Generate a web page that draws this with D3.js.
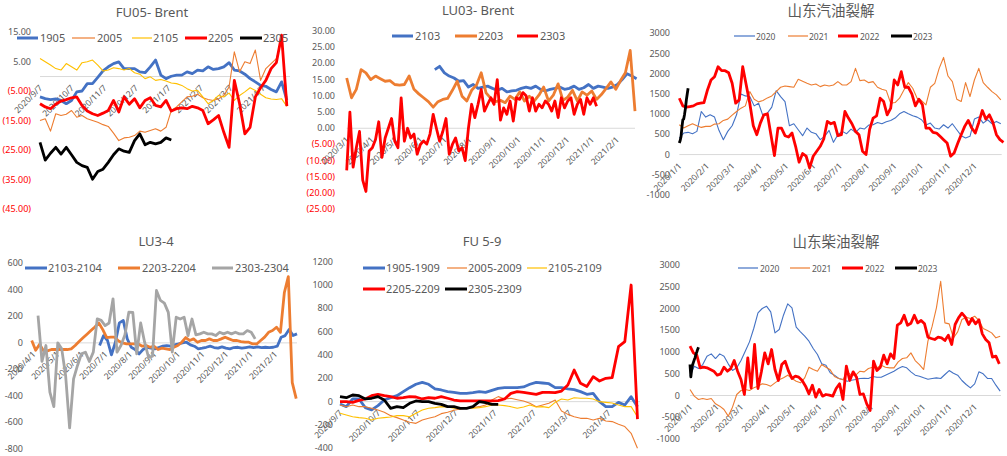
<!DOCTYPE html>
<meta charset="utf-8">
<title>Spreads and cracks</title>
<style>
    body { margin: 0; background: #fff; }
    svg text { font-family: "Noto Sans", "Liberation Sans", sans-serif; fill: #595959; }
    .cjk { font-family: "Noto Sans CJK SC", sans-serif; }
</style>
<body>
<svg id="chart" width="1007" height="456"></svg>

<script src="https://cdn.jsdelivr.net/npm/d3@7"></script>
<script>
    // ---- FU05 - Brent (step 5 days from 2020/9/7)
    var fu05_1905 = [-6.9,-7.5,-7.8,-7.6,-8.1,-9.2,-8.1,-5.2,-4.9,-2.4,-2.4,-0.3,1.9,3.3,4.4,5,2.7,2.7,2.7,1.6,1.3,3.3,5.6,0.5,-0.7,0.1,0.5,0.5,1.6,1,2.2,1.9,3.3,2.4,2.7,3.3,4.7,2.2,1.9,0.8,-0.7,-1.8,-3,-3.3,-4.4,-5.2,-1.8,-8];
    var fu05_2005 = [-14.9,-14.3,-18.5,-12.6,-13.2,-12.8,-11.5,-13.8,-13.2,-14.3,-14.9,-15.5,-16.3,-16.9,-19.2,-21.7,-20.8,-20.6,-20,-18.5,-18.9,-18.3,-17.7,-18.5,-17.2,-11.5,-10.3,-8.6,-6.9,-6.7,-6,-7.2,-7.8,-8.1,-7.5,-6.4,-3.5,8.4,1.6,5,4.4,9,-1.3,2.7,4.4,6.1,12,-7];
    var fu05_2105 = [6.1,5,3.9,2.7,2.2,4.4,3.3,2.2,4.7,5,5.6,3.9,1.9,2.2,3,2.7,2.2,2.7,1.3,0.8,-0.7,-0.1,-1.3,-1,-1.5,-2.2,-2.4,-3,-4.1,-4.9,-4.7,-6.9,-9.2,-8.1,-6.4,-6.9,-5.6,-8.1,-6.4,-5.2,-3.8,-4.7,-6,-7.2,-7.6,-7.8,-7.5,-10.1];
    var fu05_2205 = [-9.2,-10.3,-10.9,-9.4,-8.3,-7.8,-7.2,-6.9,-9.8,-11.7,-12.6,-13.2,-12.4,-11.5,-8.1,-12,-6.9,-9.4,-7.5,-10.6,-8.1,-7.2,-9.8,-10.3,-8.1,-11.7,-10.9,-10.6,-10.9,-10.1,-10.6,-11.5,-16,-14.7,-13.2,-18.9,-24,-1.3,-9.2,-19.4,-17.2,-6.9,-3.8,-1.3,2.7,4.7,14,-10];
    var fu05_2305 = [-22.3,-28.3,-26,-24,-26.3,-24,-26.5,-29.1,-30.2,-30.8,-34.8,-32.2,-31.4,-29.1,-26.5,-24.5,-25.3,-25.7,-21.7,-19.4,-23.1,-22.3,-22.8,-22.3,-20.8,-21.5];

    // ---- LU03 - Brent
    var lu03_2103 = [18.1,19.1,17.1,16.1,15.5,14.5,14.7,12.7,13.5,12.3,12.7,13,12.3,11.7,12.3,11.2,11.5,11.7,12.3,12.7,12.3,13,12,11.5,12,12.3,12.7,12,12.3,13,12,12.5,13.5,12.3,13,12.7,12.3,12.7,13.5,15,16.8,16.1,15.3];
    var lu03_2203 = [15.5,9.4,12,18.1,17.1,15,16.1,15.3,14.5,14.7,13.5,13.3,13.5,16.1,12,10.6,9.4,8.2,6.5,8.2,8.9,9.2,11.7,14.5,9.9,8.4,11.7,13.3,17.1,10.9,9.2,8.2,8.6,7.9,9.9,8.9,11.2,8.4,9.9,8.4,10.2,12.7,8.4,10.2,13.7,8.6,9.6,11.7,8.4,11.2,10.2,11.5,8.9,10.4,12.3,14.3,12,14.7,17.1,24,5.3];
    var lu03_2303 = [-13,5,-12,-6,-1,-16,-19.5,-7,-6,-3.5,2,-9,-3,0,3,-4,-6,9.4,-4,0,-3,-1.8,-8,-5,-3.9,-4.9,-1.8,4.3,0,-4,-1,3,-8,-5,-3,-7,-6,-10,0,7.4,3.3,7.4,12,5.3,7.4,9.4,7.4,15,2.5,6.3,4.3,8.4,2.2,9.4,8.9,11,10,5.3,9.4,5.3,7.4,6.3,8.4,7.4,5.3,8.4,3.3,9.4,6.3,8.4,9.4,4.3,7.4,8.9,4.3,9.4,7.4,9.4,6.8];

    // ---- 山东汽油裂解 (by day of year)
    var gas_2020 = [410,533,550,517,574,1066,927,984,927,599,369,574,713,984,1500,1451,1435,1205,1271,959,1025,1173,1580,1435,1312,713,763,615,467,656,550,517,369,451,599,303,492,574,517,631,550,656,631,730,738,795,763,812,845,902,1009,1066,1009,959,927,861,730,779,656,631,738,656,763,615,467,410,451,877,927,779,861,763,820,763];
    var gas_2021 = [738,656,713,763,713,672,697,697,754,763,845,877,976,1066,1148,1205,1558,1369,1304,1337,1402,1451,1558,1665,1697,1681,1665,1861,1812,1763,1722,1747,1681,1722,1697,1722,1804,1722,1722,1804,2132,1829,1845,1779,1804,1665,1615,1583,1271,1287,1394,1599,1779,1640,1394,1337,1230,1665,1763,2132,2403,1943,1804,1369,1312,1779,1435,1845,2132,1779,1665,1558,1476,1353];
    var gas_2022 = [1394,1205,1173,1189,1205,1255,1271,1287,1599,1845,1927,2173,2075,2075,2025,1763,1271,1353,2173,1722,1271,713,492,779,984,1009,492,-25,656,656,467,435,533,205,-189,25,-41,-328,-41,82,205,385,820,763,795,467,492,1066,902,763,574,492,82,0,615,902,959,1394,1312,984,1148,1845,1722,2050,1665,1665,1501,1205,1369,1230,656,656,550,533,451,369,287,-41,41,271,492,697,845,656,533,795,1091,877,984,795,492,369,303];
    var gas_2023 = [287,350,450,680,860,880,1000,1150,1350,1500,1640];

    // ---- LU3-4
    var lu34_2103 = [-20,55,18,-90,5,151,169,30,-33,-50,-83,-50,-33,-40,-45,-35,-25,-20,-25,-15,-8,0,5,-15,-25,-45,-40,-33,-25,-35,-40,-30,-40,-45,-35,-33,-40,-35,-30,-35,-30,-35,-33,-35,-33,-25,43,55,101,55,68];
    var lu34_2203 = [18,-55,-10,-60,-60,-50,-50,-50,-50,-50,-45,-20,10,38,65,93,120,150,100,40,43,43,15,0,-8,-8,-8,-8,-25,-20,-33,-25,-50,-40,-45,-50,-33,-20,5,40,18,30,5,18,18,30,18,18,30,43,30,18,18,10,5,5,-8,-8,18,43,80,93,118,80,380,500,-300,-420];
    var lu34_2303 = [206,-140,-20,-372,-480,0,-45,-250,-640,-272,-170,-83,-70,-140,-70,181,170,130,150,332,-70,-20,60,231,230,-83,150,5,-110,-100,395,320,300,230,-70,194,180,194,55,180,60,68,80,68,68,55,80,68,80,68,80,68,68,93,80,30];

    // ---- FU 5-9
    var fu59_1905 = [-20,-43,23,23,-51,-71,-34,14,34,51,86,120,149,166,149,109,100,86,80,71,71,77,86,80,97,114,120,120,120,126,149,166,160,154,120,120,109,103,86,63,71,0,-43,-43,-6,-29,43,-43];
    var fu59_2005 = [-29,-43,-29,-43,-43,-57,-71,-91,-120,-137,-157,-177,-186,-157,-143,-129,-103,-91,-74,-63,-57,-51,-43,-29,14,43,23,29,17,6,-14,-43,-29,-14,14,-80,-109,-129,-143,-143,-157,-143,-166,-171,-194,-214,-271,-400];
    var fu59_2105 = [-100,-114,-129,-137,-143,-157,-143,-137,-131,-120,-120,-129,-100,-71,-57,-51,-43,-46,-57,-51,-57,-57,-51,-43,-29,-29,-34,-43,-57,-46,-29,-46,-43,-51,-6,23,14,34,29,29,23,0,-6,-11,-29,-43,-43,-129];
    var fu59_2205 = [0,0,-6,11,23,51,63,51,43,29,34,43,40,23,34,29,43,29,14,6,6,6,6,6,6,9,23,71,86,80,71,63,80,80,77,91,143,271,157,129,214,177,200,206,471,514,1000,-150];
    var fu59_2305 = [43,34,57,51,23,29,43,14,-57,-43,-51,-14,6,0,0,-14,-23,-43,-43,-57,-57,-43,0,-9,-23,-23];

    // ---- 山东柴油裂解 (by day of year)
    var die_2020 = [444,674,620,712,904,957,850,957,904,728,574,636,804,1019,1233,1540,1900,2000,2053,1923,1440,1517,1846,2107,2015,1570,1463,1363,1249,1080,942,728,697,521,467,391,368,329,352,368,391,398,391,437,421,421,467,513,559,620,666,636,544,467,444,406,375,391,406,391,483,574,513,467,345,253,176,268,544,498,391,391,237,100];
    var die_2021 = [138,-15,-92,-69,-92,-69,-192,-245,-322,-475,-268,23,115,138,115,176,214,268,253,214,291,360,406,467,391,329,291,406,651,597,559,712,651,590,437,391,360,544,467,467,559,544,620,651,636,697,651,636,636,774,850,866,980,804,712,597,1249,1593,2015,2627,1670,1647,1325,1463,1747,1800,1770,1823,1724,1540,1494,1440,1325,1363];
    var die_2022 = [1134,980,927,636,651,636,597,559,467,498,651,559,620,804,559,368,23,866,176,1172,161,544,980,728,1057,597,345,712,789,559,391,444,421,345,214,38,237,-38,138,-15,23,8,-15,161,268,-92,674,345,544,421,23,38,-192,-345,789,574,651,927,728,957,850,1616,1670,1846,1616,1662,1846,1670,1724,1647,1340,1310,1287,1340,1325,1264,1386,1172,1632,1785,1892,1800,1632,1770,1647,1739,1417,1287,1210,881,904,728];
    var die_2023 = [712,430,600,700,760,820,870,950,1000,1060,1110];

    var BLUE = "#4472C4", ORANGE = "#ED7D31", GRAY = "#A5A5A5", YELLOW = "#FFC000", RED = "#FF0000", BLACK = "#000000";
    var THICK = 2.8, THIN = 1.1;

    var svg = d3.select("#chart");
    var parse = d3.timeParse("%Y-%m-%d");
    var fmtDate = function (d) { return d.getFullYear() + "/" + (d.getMonth() + 1) + "/" + d.getDate(); };
    var fmtAcc = function (v) { return v < 0 ? "(" + Math.abs(v).toFixed(2) + ")" : v.toFixed(2); };
    var fmtInt = function (v) { return String(v); };

    function drawPanel(p) {
        var g = svg.append("g");
        var x = d3.scaleTime().domain([parse(p.x0), parse(p.x1)]).range([p.left, p.right]);
        var y = d3.scaleLinear().domain(p.yDomain).range([p.bottom, p.top]);

        g.append("text")
            .attr("class", p.cjk ? "cjk" : null)
            .attr("x", p.titleX).attr("y", p.titleY)
            .attr("text-anchor", "middle")
            .style("font-size", p.cjk ? "14.5px" : "13px")
            .text(p.title);

        // y labels
        g.selectAll("text.ylab").data(p.yTicks).enter()
            .append("text").attr("class", "ylab")
            .attr("x", p.labelX).attr("y", function (d) { return y(d) + 3; })
            .attr("text-anchor", "end")
            .style("font-size", "9px")
            .style("fill", function (d) { return (p.redNeg && d < 0) ? RED : "#595959"; })
            .text(p.fmt);

        // category axis along zero
        g.append("line")
            .attr("x1", p.left).attr("x2", p.right)
            .attr("y1", y(0)).attr("y2", y(0))
            .style("stroke", "#D9D9D9").style("stroke-width", 1);

        var ticks = d3.range(p.nTicks).map(function (i) { return d3.timeMonth.offset(parse(p.x0), i); });
        g.selectAll("text.xlab").data(ticks).enter()
            .append("text").attr("class", "xlab")
            .attr("transform", function (d) { return "translate(" + (x(d) + 3) + "," + (y(0) + 12) + ") rotate(-45)"; })
            .attr("text-anchor", "end")
            .style("font-size", "8.5px")
            .text(fmtDate);

        // series
        p.series.forEach(function (s) {
            var t0 = parse(s.start);
            var line = d3.line()
                .x(function (d, i) { return x(d3.timeDay.offset(t0, i * s.step)); })
                .y(function (d) { return y(d); });
            g.append("path")
                .datum(s.values)
                .attr("d", line)
                .style("fill", "none")
                .style("stroke", s.color)
                .style("stroke-width", s.width)
                .style("stroke-linejoin", "round");
        });

        // legend
        p.series.forEach(function (s, i) {
            var L = p.legend[i];
            g.append("line")
                .attr("x1", L[0]).attr("x2", L[1]).attr("y1", L[3]).attr("y2", L[3])
                .style("stroke", s.color)
                .style("stroke-width", s.width > 2 ? 3 : 1.2);
            g.append("text")
                .attr("x", L[2]).attr("y", L[3] + 4)
                .style("font-size", p.legendSize)
                .text(s.name);
        });
    }

    drawPanel({
        title: "FU05- Brent", titleX: 152, titleY: 17,
        x0: "2020-09-07", x1: "2021-05-03", left: 40, right: 290, nTicks: 8,
        yDomain: [-45, 15], bottom: 209.3, top: 32.3,
        yTicks: d3.range(15, -46, -10), labelX: 31, fmt: fmtAcc, redNeg: true,
        legendSize: "11px",
        legend: [[17, 38, 40, 38], [72, 95, 97, 38], [132, 152, 153, 38], [185, 207, 208, 38], [240, 262, 263, 38]],
        series: [
            { name: "1905", values: fu05_1905, start: "2020-09-07", step: 5, color: BLUE, width: THICK },
            { name: "2005", values: fu05_2005, start: "2020-09-07", step: 5, color: ORANGE, width: THIN },
            { name: "2105", values: fu05_2105, start: "2020-09-07", step: 5, color: YELLOW, width: THIN },
            { name: "2205", values: fu05_2205, start: "2020-09-07", step: 5, color: RED, width: THICK },
            { name: "2305", values: fu05_2305, start: "2020-09-07", step: 5, color: BLACK, width: THICK }
        ]
    });

    drawPanel({
        title: "LU03- Brent", titleX: 478, titleY: 15,
        x0: "2020-03-01", x1: "2021-02-24", left: 346.7, right: 635, nTicks: 12,
        yDomain: [-25, 30], bottom: 209.3, top: 31,
        yTicks: d3.range(30, -26, -5), labelX: 335, fmt: fmtAcc, redNeg: true,
        legendSize: "11px",
        legend: [[392, 413, 415, 36], [455, 477, 478, 36], [517, 538, 540, 36]],
        series: [
            { name: "2103", values: lu03_2103, start: "2020-06-19", step: 6, color: BLUE, width: THICK },
            { name: "2203", values: lu03_2203, start: "2020-03-01", step: 6, color: ORANGE, width: THICK },
            { name: "2303", values: lu03_2303, start: "2020-03-01", step: 4, color: RED, width: THICK }
        ]
    });

    drawPanel({
        title: "山东汽油裂解", cjk: true, titleX: 831, titleY: 16,
        x0: "2020-01-01", x1: "2021-01-01", left: 679.3, right: 1001.7, nTicks: 12,
        yDomain: [-1000, 3000], bottom: 195, top: 33.3,
        yTicks: d3.range(3000, -1001, -500), labelX: 670, fmt: fmtInt,
        legendSize: "8.5px",
        legend: [[734, 755, 756, 36], [788, 808, 809, 36], [838, 858, 860, 36], [891, 912, 913, 36]],
        series: [
            { name: "2020", values: gas_2020, start: "2020-01-01", step: 5, color: BLUE, width: THIN },
            { name: "2021", values: gas_2021, start: "2020-01-01", step: 5, color: ORANGE, width: THIN },
            { name: "2022", values: gas_2022, start: "2020-01-01", step: 4, color: RED, width: THICK },
            { name: "2023", values: gas_2023, start: "2020-01-01", step: 1, color: BLACK, width: THICK }
        ]
    });

    drawPanel({
        title: "LU3-4", titleX: 156, titleY: 246,
        x0: "2020-04-01", x1: "2021-03-01", left: 33.3, right: 297, nTicks: 11,
        yDomain: [-800, 600], bottom: 449, top: 263.3,
        yTicks: d3.range(600, -801, -200), labelX: 23, fmt: fmtInt,
        legendSize: "11px",
        legend: [[25, 47, 48, 268], [118, 140, 142, 268], [212, 233, 235, 268]],
        series: [
            { name: "2103-2104", values: lu34_2103, start: "2020-06-24", step: 5, color: BLUE, width: THICK },
            { name: "2203-2204", values: lu34_2203, start: "2020-03-30", step: 5, color: ORANGE, width: THICK },
            { name: "2303-2304", values: lu34_2303, start: "2020-04-07", step: 5, color: GRAY, width: THICK }
        ]
    });

    drawPanel({
        title: "FU 5-9", titleX: 482, titleY: 246,
        x0: "2020-09-07", x1: "2021-05-02", left: 340, right: 640, nTicks: 8,
        yDomain: [-400, 1200], bottom: 448.3, top: 261.7,
        yTicks: d3.range(1200, -401, -200), labelX: 333, fmt: fmtInt,
        legendSize: "11px",
        legend: [[363, 385, 386, 268], [447, 467, 468, 268], [527, 547, 548, 268], [363, 385, 386, 289], [445, 467, 468, 289]],
        series: [
            { name: "1905-1909", values: fu59_1905, start: "2020-09-07", step: 5, color: BLUE, width: THICK },
            { name: "2005-2009", values: fu59_2005, start: "2020-09-07", step: 5, color: ORANGE, width: THIN },
            { name: "2105-2109", values: fu59_2105, start: "2020-09-07", step: 5, color: YELLOW, width: THIN },
            { name: "2205-2209", values: fu59_2205, start: "2020-09-07", step: 5, color: RED, width: THICK },
            { name: "2305-2309", values: fu59_2305, start: "2020-09-07", step: 5, color: BLACK, width: THICK }
        ]
    });

    drawPanel({
        title: "山东柴油裂解", cjk: true, titleX: 836, titleY: 247,
        x0: "2020-01-01", x1: "2021-01-01", left: 690, right: 1001, nTicks: 12,
        yDomain: [-1000, 3000], bottom: 439, top: 265,
        yTicks: d3.range(3000, -1001, -500), labelX: 680, fmt: fmtInt,
        legendSize: "8.5px",
        legend: [[738, 758, 760, 268], [790, 810, 812, 268], [842, 863, 865, 268], [895, 917, 918, 268]],
        series: [
            { name: "2020", values: die_2020, start: "2020-01-01", step: 5, color: BLUE, width: THIN },
            { name: "2021", values: die_2021, start: "2020-01-01", step: 5, color: ORANGE, width: THIN },
            { name: "2022", values: die_2022, start: "2020-01-01", step: 4, color: RED, width: THICK },
            { name: "2023", values: die_2023, start: "2020-01-01", step: 1, color: BLACK, width: THICK }
        ]
    });
</script>
</body>
